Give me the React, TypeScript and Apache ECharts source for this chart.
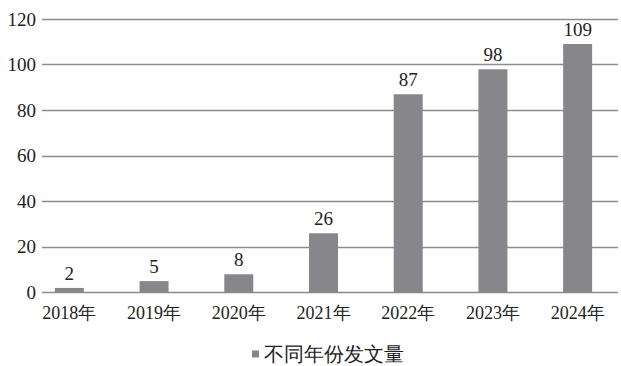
import React, { useEffect, useRef } from "react";
import * as echarts from "echarts";

const categories = ["2018年", "2019年", "2020年", "2021年", "2022年", "2023年", "2024年"];
const values = [2, 5, 8, 26, 87, 98, 109];
const seriesName = "不同年份发文量";
const yMin = 0;
const yMax = 120;
const yInterval = 20;

const FONT = "Liberation Serif";

export default function App() {
  const ref = useRef<HTMLDivElement>(null);
  useEffect(() => {
    if (!ref.current) return;
    const chart = echarts.init(ref.current, undefined, { renderer: "svg" });
    chart.setOption({
      animation: false,
      backgroundColor: "#ffffff",
      textStyle: { fontFamily: FONT },
      grid: [
        { left: 42, right: 3, top: 19, bottom: 73.5 },
        { left: 27, right: 1, top: 19, bottom: 73.5 },
      ],
      legend: {
        data: [seriesName],
        left: 247,
        top: 339,
        icon: "rect",
        itemWidth: 7,
        itemHeight: 7,
        textStyle: { fontFamily: FONT, fontSize: 20, color: "#222" },
      },
      xAxis: [
        { type: "category", gridIndex: 0, data: categories, show: false },
        {
          type: "category",
          gridIndex: 1,
          data: categories,
          axisLine: { show: false },
          axisTick: { show: false },
          axisLabel: { fontFamily: FONT, fontSize: 18, color: "#222", margin: 11 },
        },
      ],
      yAxis: [
        {
          type: "value",
          gridIndex: 0,
          min: yMin,
          max: yMax,
          interval: yInterval,
          axisLine: { show: false },
          axisTick: { show: false },
          axisLabel: { fontFamily: FONT, fontSize: 19, color: "#222", margin: 6 },
          splitLine: { lineStyle: { color: "#8c8c8c", width: 1.3 } },
        },
        {
          type: "value",
          gridIndex: 1,
          min: yMin,
          max: yMax,
          interval: yInterval,
          show: false,
          splitLine: { show: false },
        },
      ],
      series: [
        {
          name: seriesName,
          type: "bar",
          xAxisIndex: 1,
          yAxisIndex: 1,
          data: values,
          barWidth: 29,
          itemStyle: { color: "#87878b" },
          label: {
            show: true,
            position: "top",
            distance: 5,
            fontFamily: FONT,
            fontSize: 19,
            color: "#222",
          },
        },
      ],
    });
    return () => chart.dispose();
  }, []);
  return (
    <div
      ref={ref}
      style={{ position: "absolute", left: 0, top: 0, width: 621, height: 366 }}
    />
  );
}
